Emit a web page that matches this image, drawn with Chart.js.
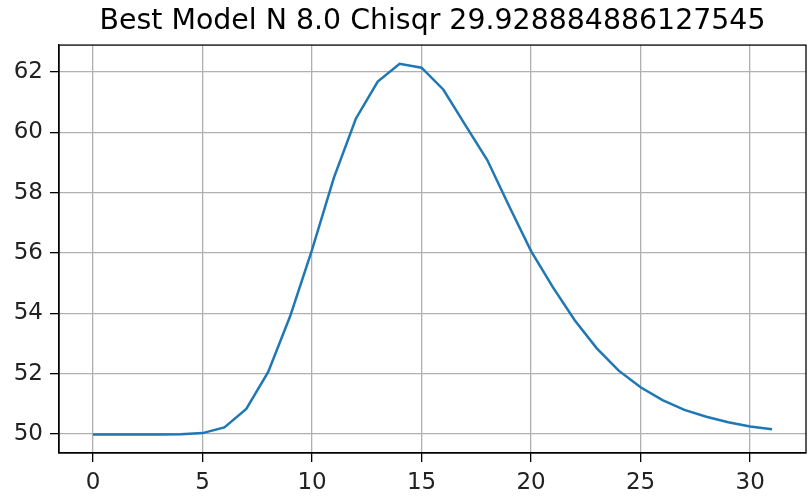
<!DOCTYPE html>
<html>
<head>
<meta charset="utf-8">
<script src="https://cdn.jsdelivr.net/npm/chart.js@4"></script>
<style>
    html, body { margin: 0; padding: 0; background: #ffffff; }
    #wrap { width: 808px; height: 496px; }
</style>
</head>
<body>
<div id="wrap"><canvas id="modelChart" width="808" height="496"></canvas></div>
<script>
// データ
const xValues = [0, 1, 2, 3, 4, 5, 6, 7, 8, 9, 10, 11, 12, 13, 14, 15,
                 16, 17, 18, 19, 20, 21, 22, 23, 24, 25, 26, 27, 28, 29, 30, 31];
const yValues = [49.98, 49.98, 49.98, 49.98, 49.99, 50.03, 50.22, 50.83, 52.06, 53.9,
                 56.1, 58.5, 60.45, 61.68, 62.27, 62.14, 61.41, 60.24, 59.08, 57.55,
                 56.06, 54.86, 53.76, 52.84, 52.1, 51.55, 51.12, 50.8, 50.57, 50.39,
                 50.25, 50.16];
const xTicks = [0, 5, 10, 15, 20, 25, 30];
const yTicks = [50, 52, 54, 56, 58, 60, 62];
const titleText = 'Best Model N 8.0 Chisqr 29.928884886127545';

const tickFont = { family: '"DejaVu Sans"', size: 23 };

// 上と右の枠線
const frameBox = {
    id: 'frameBox',
    afterDatasetsDraw(chart) {
        const a = chart.chartArea;
        const c = chart.ctx;
        c.save();
        c.strokeStyle = '#000000';
        c.lineWidth = 1.3;
        c.strokeRect(a.left, a.top, a.right - a.left, a.bottom - a.top);
        c.restore();
    }
};

const ctx = document.getElementById('modelChart').getContext('2d');
const modelChart = new Chart(ctx, {
    type: 'line',
    data: {
        datasets: [{
            data: xValues.map((x, i) => ({ x: x, y: yValues[i] })),
            borderColor: '#1f77b4',
            borderWidth: 2.5,
            pointRadius: 0,
            tension: 0,
            fill: false
        }]
    },
    options: {
        responsive: false,
        animation: false,
        layout: {
            padding: { left: 0, right: 2, top: 0, bottom: 0 }
        },
        plugins: {
            legend: { display: false },
            tooltip: { enabled: false },
            title: {
                display: true,
                text: titleText,
                fullSize: false,
                color: '#000000',
                font: { family: '"DejaVu Sans"', size: 28.4, weight: 'normal' },
                padding: { top: 5, bottom: 6 }
            }
        },
        scales: {
            x: {
                type: 'linear',
                min: -1.55,
                max: 32.55,
                afterBuildTicks: scale => { scale.ticks = xTicks.map(v => ({ value: v })); },
                afterFit: scale => { scale.height = 43; },
                ticks: {
                    color: '#222222',
                    font: tickFont,
                    padding: 7,
                    maxRotation: 0,
                    autoSkip: false,
                    callback: v => String(v)
                },
                grid: {
                    color: '#b0b0b0',
                    lineWidth: 1.3,
                    tickColor: '#000000',
                    tickLength: 9
                },
                border: { color: '#000000', width: 1.3 }
            },
            y: {
                type: 'linear',
                min: 49.37,
                max: 62.89,
                afterBuildTicks: scale => { scale.ticks = yTicks.map(v => ({ value: v })); },
                afterFit: scale => { scale.width = 59; },
                ticks: {
                    color: '#222222',
                    font: tickFont,
                    padding: 7,
                    autoSkip: false,
                    callback: v => String(v)
                },
                grid: {
                    color: '#b0b0b0',
                    lineWidth: 1.3,
                    tickColor: '#000000',
                    tickLength: 9
                },
                border: { color: '#000000', width: 1.3 }
            }
        }
    },
    plugins: [frameBox]
});
</script>
</body>
</html>
